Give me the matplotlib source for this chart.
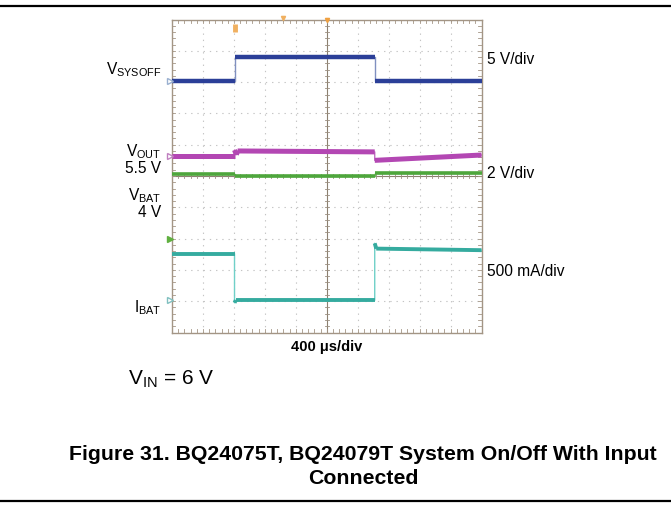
import matplotlib
matplotlib.use('Agg')
import matplotlib.pyplot as plt

plt.rcParams['font.family'] = ['Liberation Sans', 'DejaVu Sans']
plt.rcParams['mathtext.fontset'] = 'custom'
plt.rcParams['mathtext.rm'] = 'Liberation Sans'
plt.rcParams['mathtext.it'] = 'Liberation Sans:italic'
plt.rcParams['mathtext.bf'] = 'Liberation Sans:bold'

# === Scope traces (x and y in divisions, 10 x 10 screen) ===
sysoff_t = [0, 2.02, 2.02, 6.55, 6.55, 10]
sysoff_v = [8.02, 8.02, 8.79, 8.79, 8.02, 8.02]

vout_t = [0, 2.02, 2.02, 2.08, 2.12, 6.55, 6.55, 10]
vout_v = [5.65, 5.65, 5.83, 5.68, 5.80, 5.77, 5.50, 5.67]

vbat_t = [0, 2.02, 2.02, 6.55, 6.55, 10]
vbat_v = [5.07, 5.07, 5.0, 5.0, 5.08, 5.08]

ibat_t = [0, 2.02, 2.02, 2.06, 6.55, 6.55, 6.6, 10]
ibat_v = [2.52, 2.52, 0.95, 1.03, 1.03, 2.85, 2.68, 2.63]

left_labels = ["V$_{\\mathrm{SYSOFF}}$", "V$_{\\mathrm{OUT}}$", "5.5 V",
               "V$_{\\mathrm{BAT}}$", "4 V", "I$_{\\mathrm{BAT}}$"]
scale_labels = ["5 V/div", "2 V/div", "500 mA/div"]
time_label = "400 \u03bcs/div"
vin_label = "V$_{\\mathrm{IN}}$ = 6 V"
caption_lines = ["Figure 31. BQ24075T, BQ24079T System On/Off With Input",
                 "Connected"]

W, H = 671, 508
fig = plt.figure(figsize=(W / 100, H / 100), dpi=100)


def fx(x):
    return x / W


def fy(y):
    return 1 - y / H


# scope screen
x0, x1, y0, y1 = 172, 481.5, 19.5, 332.5
ax = fig.add_axes([fx(x0), fy(y1), fx(x1) - fx(x0), fy(y0) - fy(y1)])
ax.set_xlim(0, 10)
ax.set_ylim(0, 10)
ax.set_xticks([])
ax.set_yticks([])
frame_col = '#a39585'
for s in ax.spines.values():
    s.set_color(frame_col)
    s.set_linewidth(1.0)

grid_col = '#c4c4c4'
for k in range(1, 10):
    if k == 5:
        continue
    ax.axvline(k, color=grid_col, lw=0.8, ls=(0, (1.2, 4.4)), zorder=1)
    ax.axhline(k, color=grid_col, lw=0.8, ls=(0, (1.2, 4.4)), zorder=1)
ax.axvline(5, color='#8c8070', lw=0.8, zorder=1)
ax.axhline(5, color='#8c8070', lw=0.8, zorder=1)

# small tick marks every 0.2 div along centre lines and edges
ticks = [i * 0.2 for i in range(1, 50)]
for t in ticks:
    ax.plot([t, t], [4.93, 5.07], color='#9a8e80', lw=0.6, zorder=1)
    ax.plot([4.93, 5.07], [t, t], color='#9a8e80', lw=0.6, zorder=1)
    ax.plot([t, t], [9.9, 10], color=frame_col, lw=0.6, zorder=1)
    ax.plot([0, 0.1], [t, t], color=frame_col, lw=0.6, zorder=1)
    ax.plot([t, t], [0, 0.1], color=frame_col, lw=0.6, zorder=1)
    ax.plot([9.9, 10], [t, t], color=frame_col, lw=0.6, zorder=1)


def trace(t, v, col, lw, edge_col):
    ax.plot(t, v, color=edge_col, lw=1.0, zorder=3)
    for i in range(len(t) - 1):
        if t[i + 1] > t[i]:
            ax.plot(t[i:i + 2], v[i:i + 2], color=col, lw=lw,
                    solid_capstyle='butt', zorder=4)


trace(sysoff_t, sysoff_v, '#2b3f98', 3.2, '#8090c0')
trace(vout_t, vout_v, '#b347b3', 3.6, '#c070c0')
trace(vbat_t, vbat_v, '#4ea63c', 2.6, '#70b860')
trace(ibat_t, ibat_v, '#35ab9f', 2.8, '#70d0c8')

# channel reference markers on left edge
ax.plot([-0.05], [sysoff_v[0]], marker='>', ms=4, color='#9ab0d0',
        mfc='none', clip_on=False, zorder=5)
ax.plot([-0.05], [vout_v[0]], marker='>', ms=4, color='#c080c0',
        mfc='none', clip_on=False, zorder=5)
ax.plot([-0.05], [3.0], marker='>', ms=5, color='#60b040',
        clip_on=False, zorder=5)
ax.plot([-0.05], [1.03], marker='>', ms=4, color='#80c0c0',
        mfc='none', clip_on=False, zorder=5)
# trigger markers on top
ax.plot([2.02, 2.02], [9.6, 9.85], color='#f0b060', lw=3.5,
        solid_capstyle='butt', zorder=5)
ax.plot([3.6], [10.05], marker='v', ms=3, color='#f0b060',
        clip_on=False, zorder=5)
ax.plot([5.0], [10.0], marker='v', ms=3, color='#f0a040',
        clip_on=False, zorder=5)

# horizontal rules
fig.add_artist(plt.Line2D([0, 1], [fy(6), fy(6)], color='black', lw=1.6))
fig.add_artist(plt.Line2D([0, 1], [fy(501), fy(501)], color='black', lw=1.6))

# labels left of scope
lx = 161
fs = 11.2
fig.text(fx(lx), fy(70), left_labels[0], ha='right', va='center', fontsize=fs)
fig.text(fx(lx), fy(152), left_labels[1], ha='right', va='center', fontsize=fs)
fig.text(fx(lx), fy(168), left_labels[2], ha='right', va='center', fontsize=fs)
fig.text(fx(lx), fy(196), left_labels[3], ha='right', va='center', fontsize=fs)
fig.text(fx(lx), fy(213), left_labels[4], ha='right', va='center', fontsize=fs)
fig.text(fx(lx), fy(308), left_labels[5], ha='right', va='center', fontsize=fs)

# scale labels right of scope
rx = 487
fig.text(fx(rx), fy(59), scale_labels[0], ha='left', va='center', fontsize=fs)
fig.text(fx(rx), fy(173), scale_labels[1], ha='left', va='center', fontsize=fs)
fig.text(fx(rx), fy(271), scale_labels[2], ha='left', va='center', fontsize=fs)

fig.text(fx(327), fy(347), time_label, ha='center', va='center',
         fontsize=10.5, fontweight='bold')
fig.text(fx(128), fy(379), vin_label, ha='left', va='center', fontsize=15)
fig.text(fx(363), fy(455), caption_lines[0], ha='center', va='center',
         fontsize=15.3, fontweight='bold')
fig.text(fx(363), fy(478), caption_lines[1], ha='center', va='center',
         fontsize=15.3, fontweight='bold')

fig.savefig('out.png', dpi=100)
